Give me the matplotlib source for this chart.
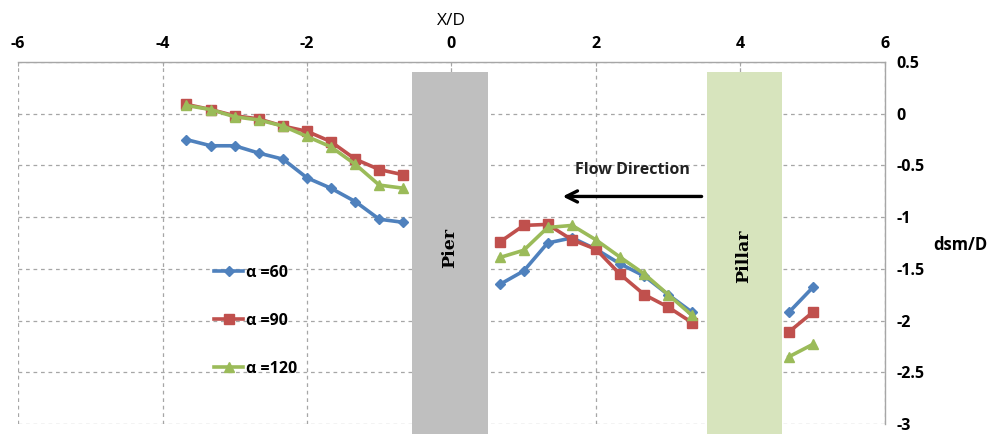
import numpy as np
import matplotlib.pyplot as plt
from matplotlib.patches import Rectangle

# =====================================================
# DATA
# =====================================================

x_left = [-3.67, -3.33, -3.0, -2.67, -2.33, -2.0, -1.67, -1.33, -1.0, -0.67]
x_mid = [0.67, 1.0, 1.33, 1.67, 2.0, 2.33, 2.67, 3.0, 3.33]
x_right = [4.67, 5.0]

a60_left = [-0.25, -0.31, -0.31, -0.38, -0.44, -0.62, -0.72, -0.85, -1.02, -1.05]
a60_mid = [-1.65, -1.52, -1.25, -1.20, -1.31, -1.45, -1.57, -1.75, -1.92]
a60_right = [-1.92, -1.68]

a90_left = [0.09, 0.04, -0.02, -0.05, -0.12, -0.17, -0.27, -0.44, -0.54, -0.59]
a90_mid = [-1.24, -1.08, -1.07, -1.22, -1.31, -1.55, -1.75, -1.87, -2.02]
a90_right = [-2.11, -1.92]

a120_left = [0.08, 0.04, -0.03, -0.06, -0.12, -0.22, -0.32, -0.49, -0.69, -0.72]
a120_mid = [-1.39, -1.32, -1.10, -1.08, -1.22, -1.385, -1.55, -1.75, -1.95]
a120_right = [-2.35, -2.23]

labels = ["\u03b1 =60", "\u03b1 =90", "\u03b1 =120"]
colors = ["#4F81BD", "#C0504D", "#9BBB59"]
markers = ["D", "s", "^"]
msizes = [5, 7.5, 7.5]

pier = (-0.55, 0.5)
pillar = (3.53, 4.57)

# =====================================================
# BUILD SERIES (NaN breaks the line at the obstacles)
# =====================================================

gap = [np.nan]
x_all = x_left + gap + x_mid + gap + x_right
series = [
    a60_left + gap + a60_mid + gap + a60_right,
    a90_left + gap + a90_mid + gap + a90_right,
    a120_left + gap + a120_mid + gap + a120_right,
]

# =====================================================
# FIGURE
# =====================================================

plt.rcParams["font.family"] = ["Open Sans", "DejaVu Sans"]
plt.rcParams["axes.unicode_minus"] = False

fig = plt.figure(figsize=(10.03, 4.34), dpi=100)
ax = fig.add_axes([18 / 1003, 1 - 424 / 434, (885 - 18) / 1003, (424 - 62) / 434])

ax.set_xlim(-6, 6)
ax.set_ylim(-3, 0.5)

ax.set_xticks(np.arange(-6, 7, 2))
ax.set_yticks(np.arange(-3, 0.51, 0.5))
ax.set_yticklabels(["-3", "-2.5", "-2", "-1.5", "-1", "-0.5", "0", "0.5"])

ax.grid(True, color="#A6A6A6", linestyle=(0, (3, 3)), linewidth=0.9)
ax.set_axisbelow(True)

for s in ["left", "bottom"]:
    ax.spines[s].set_visible(False)
for s in ["top", "right"]:
    ax.spines[s].set_color("#A6A6A6")
    ax.spines[s].set_linewidth(1.0)

ax.xaxis.tick_top()
ax.xaxis.set_label_position("top")
ax.tick_params(axis="x", direction="in", length=3, color="#A6A6A6",
               pad=7, labelsize=11.5)
ax.yaxis.tick_right()
ax.tick_params(axis="y", length=0, pad=8, labelsize=11.5)
for lab in ax.get_xticklabels() + ax.get_yticklabels():
    lab.set_fontweight("bold")

ax.set_xlabel("X/D", fontsize=12.5, labelpad=8)

# obstacles
ax.add_patch(Rectangle((pier[0], -3.2), pier[1] - pier[0], 3.6,
                       facecolor="#BFBFBF", edgecolor="none", zorder=2,
                       clip_on=False))
ax.add_patch(Rectangle((pillar[0], -3.2), pillar[1] - pillar[0], 3.6,
                       facecolor="#D7E4BD", edgecolor="none", zorder=2,
                       clip_on=False))

ax.text((pier[0] + pier[1]) / 2, -1.3, "Pier", rotation=90,
        ha="center", va="center", fontsize=12.5, fontweight="bold",
        family="DejaVu Serif", zorder=3)
ax.text((pillar[0] + pillar[1]) / 2, -1.38, "Pillar", rotation=90,
        ha="center", va="center", fontsize=12.5, fontweight="bold",
        family="DejaVu Serif", zorder=3)

# lines
for y, lab, c, m, ms in zip(series, labels, colors, markers, msizes):
    ax.plot(x_all, y, color=c, marker=m, markersize=ms, linewidth=2.6,
            label=lab, zorder=4, markeredgecolor=c)

# flow arrow
ax.annotate("", xy=(1.5, -0.8), xytext=(3.5, -0.8),
            arrowprops=dict(arrowstyle="->", color="black", lw=2.4,
                            mutation_scale=20), zorder=5)
ax.text(2.5, -0.545, "Flow Direction", ha="center", va="center",
        fontsize=11.5, fontweight="bold", color="#222222", zorder=5)

leg = ax.legend(loc="upper left", bbox_to_anchor=(0.21, 0.48),
                frameon=False, labelspacing=2.0, handlelength=1.8,
                handletextpad=0.15, prop=dict(size=11.5, weight="bold"))

fig.text(960 / 1003, 1 - 245 / 434, "dsm/D", ha="center", va="center",
         fontsize=12, fontweight="bold")

fig.savefig("out.png", dpi=100)
